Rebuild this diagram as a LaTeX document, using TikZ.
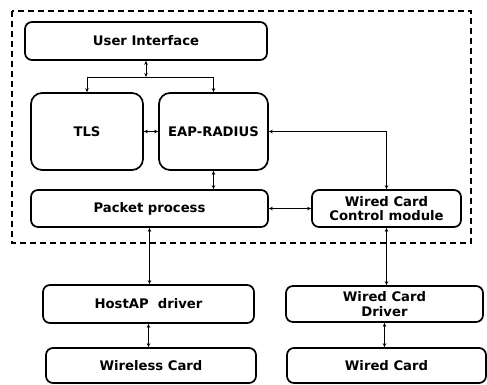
\documentclass[tikz,border=0pt]{standalone}
\usepackage{fontspec}
\setmainfont{DejaVu Sans}
\usetikzlibrary{arrows.meta, calc}

\begin{document}
\begin{tikzpicture}[x = 1pt, y = -1pt,
        box/.style = {draw = black, line width = 1.7pt, rounded corners = 7pt, align = center, inner sep = 0pt,
            font = \fontsize{13.2}{14.5}\selectfont\bfseries},
        link/.style = {black, line width = 1pt, {Stealth[length = 4pt, width = 3.5pt]}-{Stealth[length = 4pt, width = 3.5pt]}},
        half/.style = {black, line width = 1pt, -{Stealth[length = 4pt, width = 3.5pt]}}]
            \useasboundingbox (0, 0) rectangle (487, 384);
            
            \draw[black, line width = 1.3pt, dash pattern = on 6pt off 4pt](12, 11) rectangle (471, 243);
            
            \node[box, minimum width = 242pt, minimum height = 38pt] (ui) at (146, 41) {User Interface};
            \node[box, minimum width = 112pt, minimum height = 77pt, rounded corners = 11pt] (tls) at (87, 131.5) {TLS};
            \node[box, minimum width = 109pt, minimum height = 77pt, rounded corners = 11pt] (eap) at (213.5, 131.5) {EAP-RADIUS};
            \node[box, minimum width = 237pt, minimum height = 37pt] (packet) at (149.5, 208.5) {Packet process};
            \node[box, minimum width = 149pt, minimum height = 37pt] (wcc) at (386.5, 208.5) {Wired Card\\Control module};
            
            \node[box, minimum width = 211pt, minimum height = 38pt] (hostap) at (148.5, 304) {HostAP\ \ driver};
            \node[box, minimum width = 210pt, minimum height = 35pt] (wireless) at (151, 365.5) {Wireless Card};
            \node[box, minimum width = 197pt, minimum height = 36pt] (wcd) at (384.5, 304) {Wired Card\\Driver};
            \node[box, minimum width = 199pt, minimum height = 35pt] (wired) at (386.5, 365.5) {Wired Card};
            
            \coordinate (split) at (146, 77);
            \draw[link](ui.south) -- (split);
            \draw[half](split) -| (tls.north);
            \draw[half](split) -| (eap.north);
            
            \draw[link](tls.east) -- (eap.west);
            \draw[link](eap.east) -| (wcc.north);
            \draw[link](eap.south) -- (eap.south |- packet.north);
            \draw[link](packet.east) -- (wcc.west);
            
            \draw[link](packet.south) -- (packet.south |- hostap.north);
            \draw[link](hostap.south) -- (hostap.south |- wireless.north);
            \draw[link](wcc.south) -- (wcc.south |- wcd.north);
            \draw[link](wcd.south) -- (wcd.south |- wired.north);
        \end{tikzpicture}
\end{document}
